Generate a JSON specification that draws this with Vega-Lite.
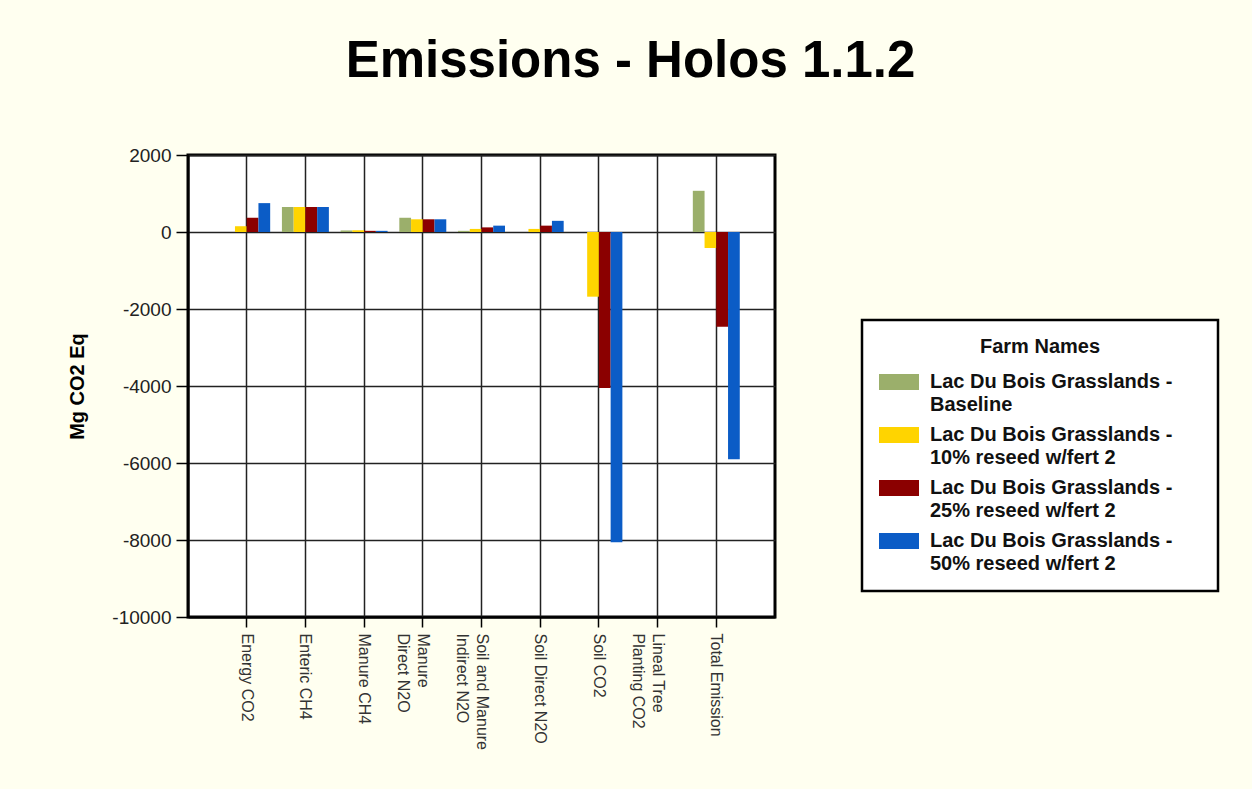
{
  "$schema": "https://vega.github.io/schema/vega-lite/v6.json",
  "width": 587,
  "height": 462,
  "autosize": {"type": "none"},
  "padding": {"left": 188, "top": 155, "right": 477, "bottom": 172},
  "background": "#FFFFF0",
  "title": {"text": "Emissions - Holos 1.1.2", "fontSize": 51, "font": "Liberation Sans", "fontWeight": "bold", "color": "#000000", "anchor": "middle", "frame": "group", "dx": 149, "offset": 58},
  "data": {"values": [
    {"category": "Energy CO2", "farm": "Lac Du Bois Grasslands - Baseline", "value": 0},
    {"category": "Energy CO2", "farm": "Lac Du Bois Grasslands - 10% reseed w/fert 2", "value": 150},
    {"category": "Energy CO2", "farm": "Lac Du Bois Grasslands - 25% reseed w/fert 2", "value": 370},
    {"category": "Energy CO2", "farm": "Lac Du Bois Grasslands - 50% reseed w/fert 2", "value": 750},
    {"category": "Enteric CH4", "farm": "Lac Du Bois Grasslands - Baseline", "value": 650},
    {"category": "Enteric CH4", "farm": "Lac Du Bois Grasslands - 10% reseed w/fert 2", "value": 650},
    {"category": "Enteric CH4", "farm": "Lac Du Bois Grasslands - 25% reseed w/fert 2", "value": 650},
    {"category": "Enteric CH4", "farm": "Lac Du Bois Grasslands - 50% reseed w/fert 2", "value": 650},
    {"category": "Manure CH4", "farm": "Lac Du Bois Grasslands - Baseline", "value": 40},
    {"category": "Manure CH4", "farm": "Lac Du Bois Grasslands - 10% reseed w/fert 2", "value": 45},
    {"category": "Manure CH4", "farm": "Lac Du Bois Grasslands - 25% reseed w/fert 2", "value": 30},
    {"category": "Manure CH4", "farm": "Lac Du Bois Grasslands - 50% reseed w/fert 2", "value": 30},
    {"category": "Manure Direct N2O", "farm": "Lac Du Bois Grasslands - Baseline", "value": 370},
    {"category": "Manure Direct N2O", "farm": "Lac Du Bois Grasslands - 10% reseed w/fert 2", "value": 330},
    {"category": "Manure Direct N2O", "farm": "Lac Du Bois Grasslands - 25% reseed w/fert 2", "value": 330},
    {"category": "Manure Direct N2O", "farm": "Lac Du Bois Grasslands - 50% reseed w/fert 2", "value": 330},
    {"category": "Soil and Manure Indirect N2O", "farm": "Lac Du Bois Grasslands - Baseline", "value": 30},
    {"category": "Soil and Manure Indirect N2O", "farm": "Lac Du Bois Grasslands - 10% reseed w/fert 2", "value": 80},
    {"category": "Soil and Manure Indirect N2O", "farm": "Lac Du Bois Grasslands - 25% reseed w/fert 2", "value": 120},
    {"category": "Soil and Manure Indirect N2O", "farm": "Lac Du Bois Grasslands - 50% reseed w/fert 2", "value": 165},
    {"category": "Soil Direct N2O", "farm": "Lac Du Bois Grasslands - Baseline", "value": 0},
    {"category": "Soil Direct N2O", "farm": "Lac Du Bois Grasslands - 10% reseed w/fert 2", "value": 80},
    {"category": "Soil Direct N2O", "farm": "Lac Du Bois Grasslands - 25% reseed w/fert 2", "value": 165},
    {"category": "Soil Direct N2O", "farm": "Lac Du Bois Grasslands - 50% reseed w/fert 2", "value": 290},
    {"category": "Soil CO2", "farm": "Lac Du Bois Grasslands - Baseline", "value": 0},
    {"category": "Soil CO2", "farm": "Lac Du Bois Grasslands - 10% reseed w/fert 2", "value": -1680},
    {"category": "Soil CO2", "farm": "Lac Du Bois Grasslands - 25% reseed w/fert 2", "value": -4050},
    {"category": "Soil CO2", "farm": "Lac Du Bois Grasslands - 50% reseed w/fert 2", "value": -8060},
    {"category": "Lineal Tree Planting CO2", "farm": "Lac Du Bois Grasslands - Baseline", "value": 0},
    {"category": "Lineal Tree Planting CO2", "farm": "Lac Du Bois Grasslands - 10% reseed w/fert 2", "value": 0},
    {"category": "Lineal Tree Planting CO2", "farm": "Lac Du Bois Grasslands - 25% reseed w/fert 2", "value": 0},
    {"category": "Lineal Tree Planting CO2", "farm": "Lac Du Bois Grasslands - 50% reseed w/fert 2", "value": 0},
    {"category": "Total Emission", "farm": "Lac Du Bois Grasslands - Baseline", "value": 1070},
    {"category": "Total Emission", "farm": "Lac Du Bois Grasslands - 10% reseed w/fert 2", "value": -415},
    {"category": "Total Emission", "farm": "Lac Du Bois Grasslands - 25% reseed w/fert 2", "value": -2460},
    {"category": "Total Emission", "farm": "Lac Du Bois Grasslands - 50% reseed w/fert 2", "value": -5900}
  ]},
  "mark": {"type": "bar"},
  "encoding": {
    "x": {
      "field": "category", "type": "nominal",
      "sort": ["Energy CO2", "Enteric CH4", "Manure CH4", "Manure Direct N2O", "Soil and Manure Indirect N2O", "Soil Direct N2O", "Soil CO2", "Lineal Tree Planting CO2", "Total Emission"],
      "scale": {"paddingInner": 0.2, "paddingOuter": 0.6},
      "axis": {
        "title": null, "labelAngle": 90, "labelAlign": "left", "labelBaseline": "middle",
        "labelFontSize": 16, "labelFont": "Liberation Sans", "labelColor": "#333333",
        "labelPadding": 6, "labelLineHeight": 20, "labelLimit": 300,
        "tickSize": 10, "tickColor": "#000000", "tickWidth": 1.5,
        "domainColor": "#000000", "domainWidth": 2,
        "grid": true, "gridColor": "#222222", "gridWidth": 1.5, "bandPosition": 0.5,
        "labelExpr": "datum.label == 'Manure Direct N2O' ? ['Manure', 'Direct N2O'] : datum.label == 'Soil and Manure Indirect N2O' ? ['Soil and Manure', 'Indirect N2O'] : datum.label == 'Lineal Tree Planting CO2' ? ['Lineal Tree', 'Planting CO2'] : datum.label"
      }
    },
    "xOffset": {
      "field": "farm",
      "sort": ["Lac Du Bois Grasslands - Baseline", "Lac Du Bois Grasslands - 10% reseed w/fert 2", "Lac Du Bois Grasslands - 25% reseed w/fert 2", "Lac Du Bois Grasslands - 50% reseed w/fert 2"]
    },
    "y": {
      "field": "value", "type": "quantitative",
      "scale": {"domain": [-10000, 2000], "nice": false},
      "axis": {
        "title": "Mg CO2 Eq", "titleFontSize": 20, "titleFontWeight": "bold", "titleFont": "Liberation Sans", "titleColor": "#000000", "titlePadding": 24,
        "values": [-10000, -8000, -6000, -4000, -2000, 0, 2000],
        "labelExpr": "'' + datum.value",
        "labelFontSize": 19, "labelFont": "Liberation Sans", "labelColor": "#222222", "labelPadding": 5,
        "tickSize": 12, "tickColor": "#000000", "tickWidth": 1.5,
        "domainColor": "#000000", "domainWidth": 2,
        "grid": true, "gridColor": "#222222", "gridWidth": 1.5
      }
    },
    "color": {
      "field": "farm", "type": "nominal",
      "scale": {
        "domain": ["Lac Du Bois Grasslands - Baseline", "Lac Du Bois Grasslands - 10% reseed w/fert 2", "Lac Du Bois Grasslands - 25% reseed w/fert 2", "Lac Du Bois Grasslands - 50% reseed w/fert 2"],
        "range": ["#9BAF6B", "#FFD400", "#8B0000", "#0B5CC6"]
      },
      "legend": {
        "orient": "none", "legendX": 674, "legendY": 165,
        "title": "Farm Names", "titleFontSize": 20, "titleFont": "Liberation Sans", "titleFontWeight": "bold", "titleColor": "#111111", "titleAnchor": "middle", "titlePadding": 5,
        "labelFontSize": 20, "labelFont": "Liberation Sans", "labelFontWeight": "bold", "labelColor": "#111111", "labelLimit": 400, "labelOffset": 11,
        "labelExpr": "[slice(datum.label, 0, 24) + '\u00a0\u00a0\u00a0\u00a0\u00a0\u200b', slice(datum.label, 25)]",
        "symbolType": "M-1,-0.4H1V0.4H-1Z", "symbolSize": 1600, "symbolStrokeWidth": 0, "symbolOpacity": 1,
        "padding": 17, "strokeColor": "#000000", "fillColor": "#FFFFFF", "rowPadding": 0,
        "encode": {
          "labels": {"update": {"lineHeight": {"value": 23}}},
          "legend": {"update": {"strokeWidth": {"value": 2.5}}}
        }
      }
    }
  },
  "config": {
    "view": {"stroke": "#000000", "strokeWidth": 3, "fill": "#FFFFFF"}
  }
}
